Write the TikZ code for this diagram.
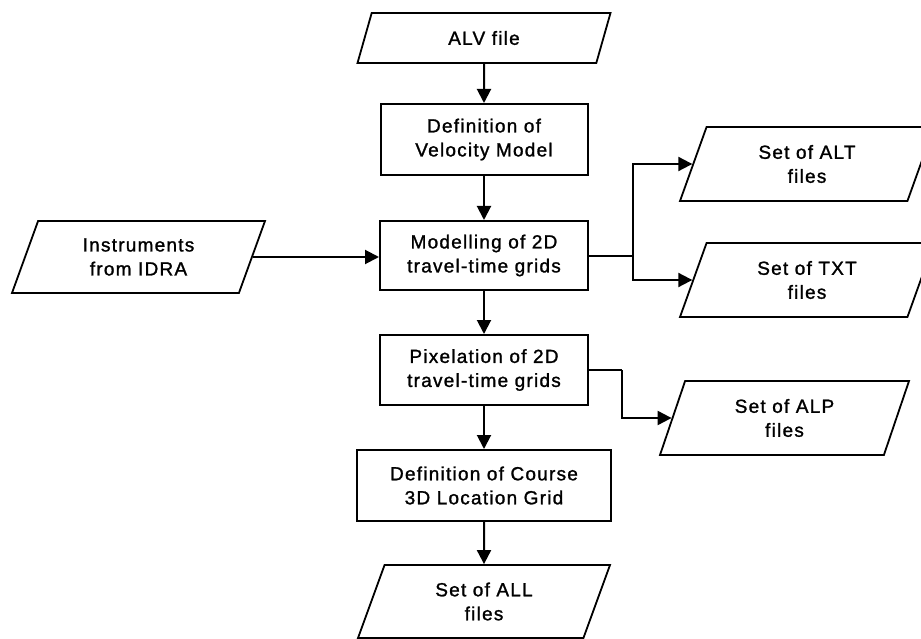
\documentclass[tikz,border=0pt]{standalone}
\usepackage{fontspec}
\setmainfont{Liberation Sans}[LetterSpace=6.5, FakeBold=1.3]
\usetikzlibrary{shapes.geometric,arrows.meta}
\tikzset{
  every node/.style={font=\fontsize{19}{24}\selectfont, align=center},
  proc/.style={draw, line width=2pt, rectangle, inner sep=0pt, fill=white},
  io/.style={draw, line width=1.8pt, trapezium, trapezium stretches body=true, inner sep=0pt, fill=white},
  arr/.style={line width=2pt, -{Triangle[length=14pt,width=14pt]}},
  conn/.style={line width=2pt}
}
\begin{document}
\begin{tikzpicture}[x=1pt,y=-1pt]
\useasboundingbox (0,0) rectangle (921,639);
\clip (0,0) rectangle (921,639);
% input/output parallelograms
\node[io, trapezium left angle=44.5, trapezium right angle=135.5, minimum width=253pt, minimum height=50pt] (alv) at (484,38) {ALV file};
\node[io, trapezium left angle=55, trapezium right angle=125, minimum width=253pt, minimum height=72pt] (instr) at (138.5,257) {Instruments\\from IDRA};
\node[io, trapezium left angle=55, trapezium right angle=125, minimum width=254pt, minimum height=74pt] (alt) at (807,164) {Set of ALT\\files};
\node[io, trapezium left angle=55, trapezium right angle=125, minimum width=254pt, minimum height=74pt] (txt) at (807,280) {Set of TXT\\files};
\node[io, trapezium left angle=56.5, trapezium right angle=123.5, minimum width=249pt, minimum height=74pt] (alp) at (784.5,418) {Set of ALP\\files};
\node[io, trapezium left angle=55, trapezium right angle=125, minimum width=252pt, minimum height=73pt] (all) at (484,601.5) {Set of ALL\\files};
% process boxes
\node[proc, minimum width=207pt, minimum height=71pt] (vel) at (484,139.5) {Definition of\\Velocity Model};
\node[proc, minimum width=208pt, minimum height=69pt] (mod) at (484,255.5) {Modelling of 2D\\travel-time grids};
\node[proc, minimum width=208pt, minimum height=70pt] (pix) at (484,370) {Pixelation of 2D\\travel-time grids};
\node[proc, minimum width=254pt, minimum height=71pt] (course) at (484,485.5) {Definition of Course\\3D Location Grid};
% connectors
\draw[arr] (alv.south) -- (vel.north);
\draw[arr] (vel.south) -- (mod.north);
\draw[arr] (mod.south) -- (pix.north);
\draw[arr] (pix.south) -- (course.north);
\draw[arr] (course.south) -- (all.north);
\draw[arr] (instr.east) -- (mod.west |- instr.east);
\coordinate (br) at (633,255.5);
\draw[conn] (mod.east) -- (br);
\draw[arr] (br) |- (alt.west);
\draw[arr] (br) |- (txt.west);
\coordinate (pb) at (622,370);
\draw[conn] (pix.east) -- (pb);
\draw[arr] (pb) |- (alp.west);
\end{tikzpicture}
\end{document}
